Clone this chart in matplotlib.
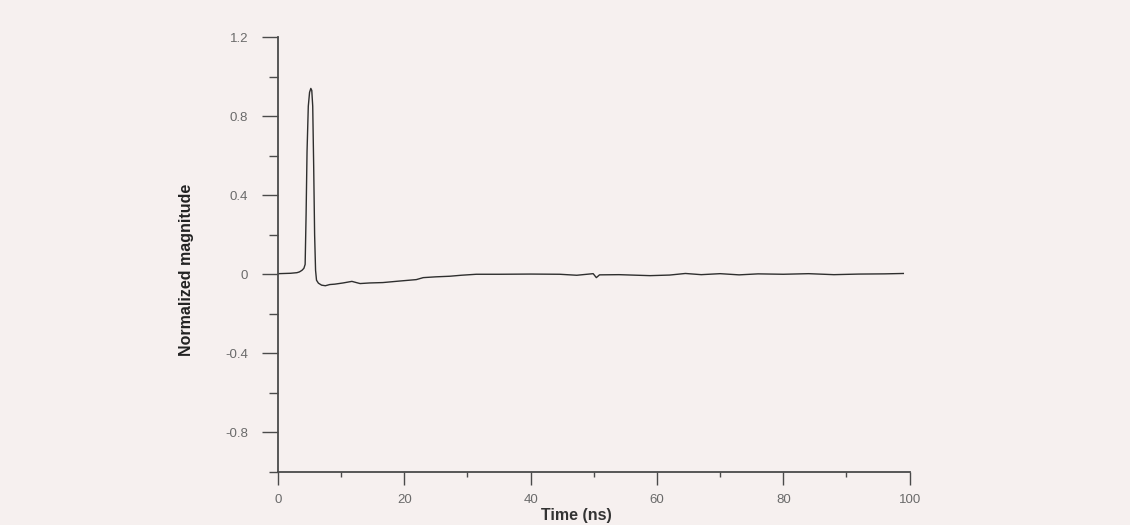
import numpy as np
import matplotlib.pyplot as plt
from matplotlib.ticker import FixedLocator

# pulse response, normalized
time_ns = [0, 1.0, 2.0, 3.0, 3.4, 3.8, 4.1, 4.3, 4.45, 4.6, 4.8, 5.0, 5.2,
           5.35, 5.5, 5.65, 5.8, 5.95, 6.1, 6.4, 6.9, 7.5, 8.2, 9.0, 10.3,
           11.0, 11.7, 12.4, 13.0, 14.5, 16.6, 19.0, 21.9, 23.0, 25.0, 27.2,
           29.0, 31.4, 35.0, 40.0, 44.6, 47.3, 49.9, 50.4, 50.9, 54.0, 58.9,
           62.0, 64.5, 67.0, 70.0, 73.0, 76.0, 80.0, 84.0, 88.0, 92.0, 96.0,
           99.0]
magnitude = [0.003, 0.004, 0.005, 0.008, 0.012, 0.02, 0.03, 0.05, 0.3,
             0.62, 0.85, 0.92, 0.94, 0.93, 0.85, 0.55, 0.2, 0.02, -0.03,
             -0.045, -0.055, -0.058, -0.052, -0.05, -0.044, -0.04, -0.036,
             -0.042, -0.047, -0.044, -0.042, -0.035, -0.027, -0.017, -0.013,
             -0.01, -0.005, 0.0, 0.0, 0.001, 0.0, -0.005, 0.003, -0.017,
             -0.003, -0.002, -0.007, -0.004, 0.004, -0.002, 0.003, -0.003,
             0.002, 0.0, 0.003, -0.002, 0.001, 0.002, 0.004]

y_major = [1.2, 0.8, 0.4, 0, -0.4, -0.8]
y_major_labels = ['1.2', '0.8', '0.4', '0', '-0.4', '-0.8']
y_minor = [1.0, 0.6, 0.2, -0.2, -0.6, -1.0]
x_major = [0, 20, 40, 60, 80, 100]
x_minor = [10, 30, 50, 70, 90]

bg = '#f6f0ef'
plt.rcParams['font.family'] = ['Liberation Sans', 'DejaVu Sans']

fig = plt.figure(figsize=(11.3, 5.25), dpi=100, facecolor=bg)
ax = fig.add_axes([0.246, 0.101, 0.559, 0.8285], facecolor=bg)

ax.plot(time_ns, magnitude, color='#2e2e2e', lw=1.0)

ax.set_xlim(0, 100)
ax.set_ylim(-1.0, 1.2)
for s in ['top', 'right']:
    ax.spines[s].set_visible(False)
for s in ['left', 'bottom']:
    ax.spines[s].set_color('#4a4a4a')
    ax.spines[s].set_linewidth(1.3)

ax.yaxis.set_major_locator(FixedLocator(y_major))
ax.set_yticklabels(y_major_labels)
ax.yaxis.set_minor_locator(FixedLocator(y_minor))
ax.xaxis.set_major_locator(FixedLocator(x_major))
ax.xaxis.set_minor_locator(FixedLocator(x_minor))

ax.tick_params(axis='y', which='major', length=11.5, width=1.0, pad=10,
               color='#4a4a4a', labelcolor='#6a6a6a', labelsize=9.5)
ax.tick_params(axis='y', which='minor', length=6.5, width=1.0, color='#4a4a4a')
ax.tick_params(axis='x', which='major', length=9.5, width=1.0, pad=6,
               color='#4a4a4a', labelcolor='#6a6a6a', labelsize=9.5)
ax.tick_params(axis='x', which='minor', length=3.5, width=1.0, color='#4a4a4a')

ax.set_xlabel('Time (ns)', fontsize=11.5, fontweight='bold', color='#333333')
ax.xaxis.set_label_coords(0.473, -0.082)
ax.set_ylabel('Normalized magnitude', fontsize=11.5, fontweight='bold',
              color='#222222')
ax.yaxis.set_label_coords(-0.133, 0.465)

fig.savefig('out.png', dpi=100, facecolor=bg)
